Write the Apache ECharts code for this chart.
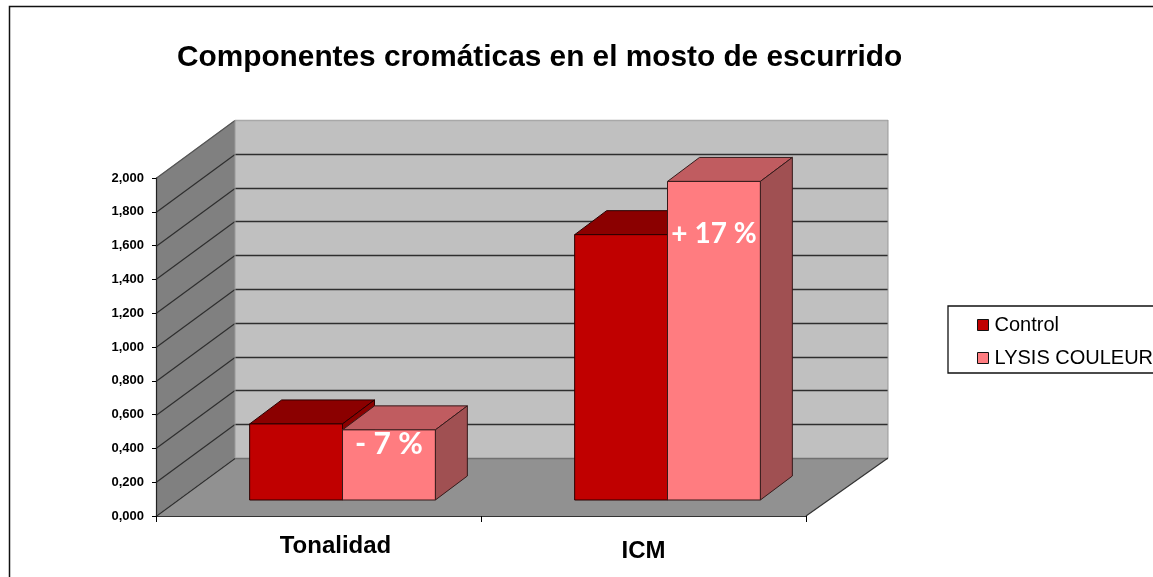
<!DOCTYPE html>
<html>
<head>
<meta charset="utf-8">
<title>Componentes cromáticas en el mosto de escurrido</title>
<style>
html, body { margin: 0; padding: 0; background: #fff; overflow: hidden; }
#chart { width: 1153px; height: 577px; }
</style>
<script src="https://cdn.jsdelivr.net/npm/echarts@6/dist/echarts.min.js"></script>
</head>
<body>
<div id="chart"></div>
<script>
var categories = ['Tonalidad', 'ICM'];
var control = [0.45, 1.57];
var lysis = [0.415, 1.885];
var yTicks = [0, 0.2, 0.4, 0.6, 0.8, 1, 1.2, 1.4, 1.6, 1.8, 2];
var seriesNames = ['Control', 'LYSIS COULEUR'];

// depth of the fake 3d box, in pixels
var WALL_DX = 79, WALL_DX_RIGHT = 82, WALL_DY = -58;
var BAR_SHIFT_X = 24, BAR_SHIFT_Y = -16;
var BAR_DX = 32, BAR_DY = -24;

var chart = echarts.init(document.getElementById('chart'));

function poly(points, fill, stroke, width) {
    return {
        type: 'polygon',
        shape: { points: points },
        style: { fill: fill, stroke: stroke || null, lineWidth: width || 0 }
    };
}

function line(x1, y1, x2, y2, stroke, width) {
    return {
        type: 'line',
        shape: { x1: x1, y1: y1, x2: x2, y2: y2 },
        style: { stroke: stroke, lineWidth: width }
    };
}

function renderWalls(params, api) {
    var left = params.coordSys.x;
    var right = left + params.coordSys.width;
    var backLeft = left + WALL_DX;
    var backRight = right + WALL_DX_RIGHT;
    var y0 = api.coord([0, 0])[1];
    var yTop = api.coord([0, 2])[1];
    var children = [
        poly([[left, yTop], [backLeft, yTop + WALL_DY], [backLeft, y0 + WALL_DY], [left, y0]], '#808080'),
        poly([[backLeft, yTop + WALL_DY], [backRight, yTop + WALL_DY], [backRight, y0 + WALL_DY], [backLeft, y0 + WALL_DY]], '#c0c0c0'),
        poly([[left, y0], [backLeft, y0 + WALL_DY], [backRight, y0 + WALL_DY], [right, y0]], '#919191')
    ];
    yTicks.forEach(function(t) {
        var y = Math.round(api.coord([0, t])[1]) + 0.5;
        var color = t === 2 ? '#a8a8a8' : '#2e2e2e';
        children.push(line(left, y, backLeft, y + WALL_DY, t === 2 ? '#555' : '#2e2e2e', 1.2));
        children.push(line(backLeft, y + WALL_DY, backRight, y + WALL_DY, t === 0 ? '#707070' : color, 1.4));
    });
    children.push(line(backLeft, yTop + WALL_DY, backLeft, y0 + WALL_DY, '#9a9a9a', 1));
    children.push(line(backRight, yTop + WALL_DY, backRight, y0 + WALL_DY, '#999', 1));
    children.push(line(right, y0, backRight, y0 + WALL_DY, '#333', 1.2));
    return { type: 'group', children: children };
}

function barRenderer(index, front, top, side, edge) {
    return function(params, api) {
        var cat = api.value(0);
        var band = api.size([1, 0])[0];
        var w = band / 3.5;
        var cx = api.coord([cat, 0])[0] + BAR_SHIFT_X;
        var x1 = cx - w + index * w;
        var x2 = x1 + w;
        var yb = api.coord([cat, 0])[1] + BAR_SHIFT_Y;
        var yt = api.coord([cat, api.value(1)])[1] + BAR_SHIFT_Y;
        return {
            type: 'group',
            children: [
                poly([[x1, yt], [x2, yt], [x2 + BAR_DX, yt + BAR_DY], [x1 + BAR_DX, yt + BAR_DY]], top, edge, 1),
                poly([[x2, yt], [x2 + BAR_DX, yt + BAR_DY], [x2 + BAR_DX, yb + BAR_DY], [x2, yb]], side, edge, 1),
                poly([[x1, yt], [x2, yt], [x2, yb], [x1, yb]], front, edge, 1)
            ]
        };
    };
}

function toPairs(values) {
    return values.map(function(v, i) {
        return [i, v];
    });
}

var option = {
    animation: false,
    backgroundColor: '#fff',
    title: {
        text: 'Componentes cromáticas en el mosto de escurrido',
        left: 177,
        top: 43,
        padding: 0,
        textStyle: { fontFamily: 'Liberation Sans', fontWeight: 'bold', fontSize: 29.8, color: '#000' }
    },
    legend: {
        orient: 'vertical',
        left: 948,
        top: 306,
        padding: [9, 20, 5, 29],
        itemGap: 13,
        itemWidth: 11,
        itemHeight: 11,
        icon: 'rect',
        selectedMode: false,
        borderColor: '#111',
        borderWidth: 1.3,
        data: seriesNames,
        itemStyle: { borderColor: '#111', borderWidth: 1 },
        textStyle: { fontFamily: 'Liberation Sans', fontSize: 20, color: '#000', padding: [0, 0, 0, 1] }
    },
    graphic: [
        {
            type: 'rect',
            silent: true,
            shape: { x: 9.5, y: 6.5, width: 1300, height: 700 },
            style: { fill: null, stroke: '#111', lineWidth: 1.5 }
        },
        {
            type: 'text',
            z: 100,
            x: 389,
            y: 444,
            style: { text: '- 7 %', fill: '#fff', align: 'center', verticalAlign: 'middle', font: 'bold 30px Lato' }
        },
        {
            type: 'text',
            z: 100,
            x: 714,
            y: 234,
            style: { text: '+ 17 %', fill: '#fff', align: 'center', verticalAlign: 'middle', font: 'bold 28px Lato' }
        }
    ],
    grid: { left: 156, top: 178, width: 650, height: 338 },
    xAxis: {
        type: 'category',
        data: categories,
        z: 5,
        axisLine: { lineStyle: { color: '#333', width: 1.2 } },
        axisTick: { show: true, alignWithLabel: false, length: 6, lineStyle: { color: '#000' } },
        axisLabel: {
            margin: 18,
            color: '#000',
            formatter: function(v) {
                return v === 'Tonalidad' ? '{a|' + v + '}' : '{b|' + v + '}';
            },
            rich: {
                a: { fontFamily: 'Liberation Sans', fontWeight: 'bold', fontSize: 24, padding: [0, 0, 0, 34] },
                b: { fontFamily: 'Liberation Sans', fontWeight: 'bold', fontSize: 24, padding: [5, 0, 0, 0] }
            }
        }
    },
    yAxis: {
        type: 'value',
        min: 0,
        max: 2,
        interval: 0.2,
        z: 5,
        splitLine: { show: false },
        axisLine: { show: true, lineStyle: { color: '#222', width: 1.2 } },
        axisTick: { show: true, length: 4, lineStyle: { color: '#000' } },
        axisLabel: {
            margin: 12,
            padding: [4, 0, 0, 0],
            color: '#000',
            fontFamily: 'Liberation Sans',
            fontWeight: 'bold',
            fontSize: 13,
            formatter: function(v) {
                return v.toFixed(3).replace('.', ',');
            }
        }
    },
    series: [
        {
            name: 'walls',
            type: 'custom',
            z: 1,
            silent: true,
            clip: false,
            renderItem: renderWalls,
            data: [[0, 0]]
        },
        {
            name: seriesNames[0],
            type: 'custom',
            z: 2,
            clip: false,
            itemStyle: { color: '#c00000' },
            renderItem: barRenderer(0, '#c00000', '#8b0000', '#8b0000', '#2a0000'),
            encode: { x: 0, y: 1 },
            data: toPairs(control)
        },
        {
            name: seriesNames[1],
            type: 'custom',
            z: 3,
            clip: false,
            itemStyle: { color: '#ff7c80' },
            renderItem: barRenderer(1, '#ff7c80', '#c05c60', '#a05052', '#351a1a'),
            encode: { x: 0, y: 1 },
            data: toPairs(lysis)
        }
    ]
};

chart.setOption(option);
</script>
</body>
</html>
